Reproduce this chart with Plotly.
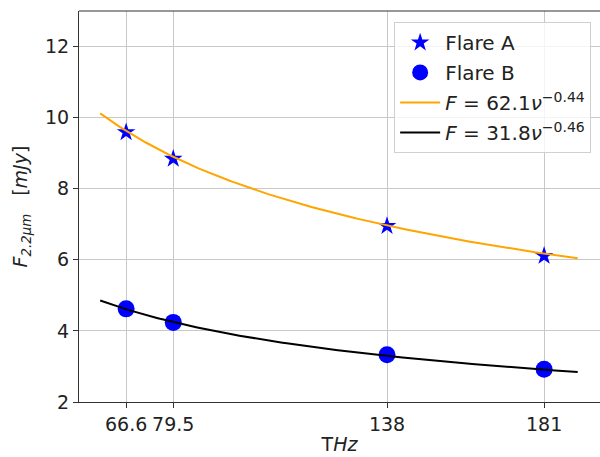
import numpy as np
import plotly.graph_objects as go

# Observed frequencies (THz) and flux densities (mJy)
freq = [66.6, 79.5, 138, 181]
flare_a = [9.59, 8.84, 6.95, 6.11]
flare_b = [4.62, 4.24, 3.33, 2.92]

# Power-law fits F = A * nu^(-k)
fit_a_amp, fit_a_idx = 62.1, 0.444
fit_b_amp, fit_b_idx = 31.8, 0.46
fit_nu_min, fit_nu_max = 59.5, 190.2

tick_vals = [66.6, 79.5, 138, 181]
tick_text = ["66.6", "79.5", "138", "181"]

nu = np.linspace(fit_nu_min, fit_nu_max, 200)
fit_a = fit_a_amp * nu ** (-fit_a_idx)
fit_b = fit_b_amp * nu ** (-fit_b_idx)

font = "DejaVu Sans, Liberation Sans, sans-serif"

fig = go.Figure()
fig.add_trace(go.Scatter(
    x=freq, y=flare_a, mode="markers", name="Flare A", legendgroup="a",
    marker=dict(symbol="star", size=14, color="blue", line=dict(width=0)),
))
fig.add_trace(go.Scatter(
    x=freq, y=flare_b, mode="markers", name="Flare B", legendgroup="b",
    marker=dict(symbol="circle", size=17, color="blue", line=dict(width=0)),
))
fig.add_trace(go.Scatter(
    x=nu, y=fit_a, mode="lines", legendgroup="c",
    name="<i>F</i> = 62.1<i>ν</i><sup>−0.44</sup>",
    line=dict(color="orange", width=2),
))
fig.add_trace(go.Scatter(
    x=nu, y=fit_b, mode="lines", legendgroup="d",
    name="<i>F</i> = 31.8<i>ν</i><sup>−0.46</sup>",
    line=dict(color="black", width=2),
))

fig.update_layout(
    width=600, height=457,
    margin=dict(l=79, r=0, t=11, b=55),
    paper_bgcolor="white", plot_bgcolor="white",
    font=dict(family=font, size=19, color="#222"),
    showlegend=True,
    legend=dict(
        x=0.983, y=0.972, xanchor="right", yanchor="top",
        bgcolor="rgba(255,255,255,0.8)", bordercolor="#d0d0d0", borderwidth=1,
        font=dict(size=20), tracegroupgap=1, itemwidth=40,
    ),
    xaxis=dict(
        range=[53.7, 196.3], tickvals=tick_vals, ticktext=tick_text,
        showgrid=True, gridcolor="#c8c8c8", gridwidth=1,
        showline=True, linecolor="#333", linewidth=1.2,
        ticks="outside", ticklen=5, tickcolor="#333",
        zeroline=False, tickfont=dict(size=19),
        title=dict(text="T<i>Hz</i>", font=dict(size=19), standoff=3),
    ),
    yaxis=dict(
        range=[2, 13], tickvals=[2, 4, 6, 8, 10, 12],
        showgrid=True, gridcolor="#c8c8c8", gridwidth=1,
        showline=True, linecolor="#333", linewidth=1.2,
        ticks="outside", ticklen=5, tickcolor="#333",
        zeroline=False, tickfont=dict(size=19),
        title=dict(text="<i>F</i><sub><i>2.2μm</i></sub>\u00a0\u00a0\u00a0[<i>mJy</i>]",
                   font=dict(size=19), standoff=12),
    ),
    shapes=[dict(type="line", xref="paper", yref="paper", x0=0, x1=1, y0=1, y1=1,
                 line=dict(color="#333", width=1.2))],
)

fig.write_html("out.html")
